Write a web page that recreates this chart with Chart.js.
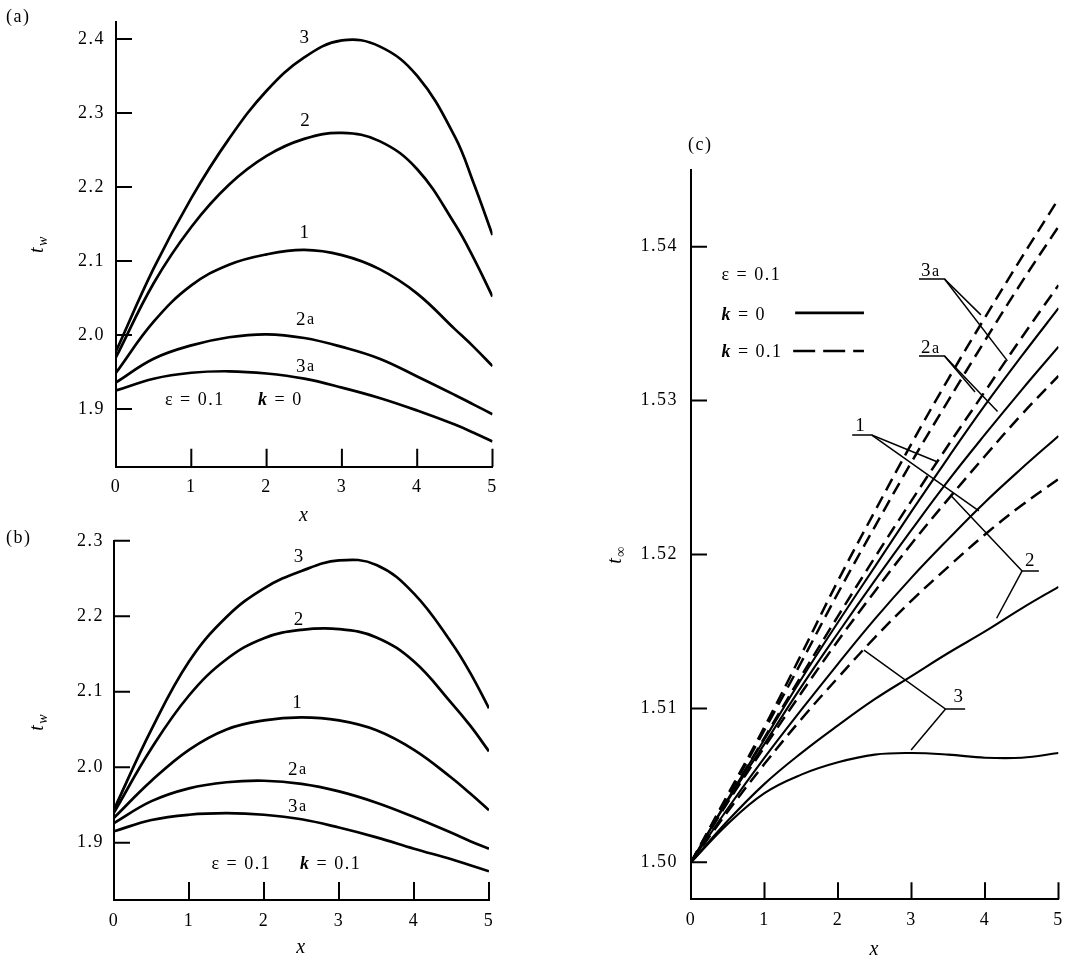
<!DOCTYPE html>
<html><head><meta charset="utf-8">
<script src="https://cdn.jsdelivr.net/npm/chart.js@4.4.1/dist/chart.umd.min.js"></script>
<style>
html,body{margin:0;padding:0;background:#fff;}
body{width:1073px;height:960px;position:relative;overflow:hidden;}
canvas{position:absolute;}
</style></head><body>
<canvas id="ca"></canvas><canvas id="cb"></canvas><canvas id="cc"></canvas>
<script>
// ---------- data ----------
const xTicks = [0, 1, 2, 3, 4, 5];
const xTickLabels = ['0', '1', '2', '3', '4', '5'];
const yTicksA = [1.9, 2.0, 2.1, 2.2, 2.3, 2.4];
const yLabelsA = ['1.9', '2.0', '2.1', '2.2', '2.3', '2.4'];
const yTicksB = [1.9, 2.0, 2.1, 2.2, 2.3];
const yLabelsB = ['1.9', '2.0', '2.1', '2.2', '2.3'];
const yTicksC = [1.50, 1.51, 1.52, 1.53, 1.54];
const yLabelsC = ['1.50', '1.51', '1.52', '1.53', '1.54'];

// panels (a) and (b): t_w vs x
const xAB = [0, 0.5, 1, 1.5, 2, 2.5, 3, 3.5, 4, 4.5, 4.75, 5];
const a3  = [1.978, 2.090, 2.185, 2.265, 2.330, 2.375, 2.398, 2.390, 2.350, 2.268, 2.205, 2.135];
const a2  = [1.970, 2.070, 2.146, 2.203, 2.242, 2.265, 2.273, 2.262, 2.224, 2.150, 2.104, 2.052];
const a1  = [1.949, 2.018, 2.067, 2.095, 2.109, 2.115, 2.108, 2.089, 2.056, 2.008, 1.984, 1.958];
const a2a = [1.936, 1.968, 1.986, 1.997, 2.001, 1.996, 1.984, 1.968, 1.944, 1.919, 1.906, 1.893];
const a3a = [1.925, 1.941, 1.949, 1.951, 1.948, 1.941, 1.929, 1.915, 1.898, 1.879, 1.868, 1.856];

const b3  = [1.944, 2.050, 2.140, 2.199, 2.237, 2.260, 2.274, 2.268, 2.230, 2.165, 2.125, 2.078];
const b2  = [1.940, 2.025, 2.095, 2.143, 2.171, 2.182, 2.183, 2.172, 2.140, 2.085, 2.055, 2.021];
const b1  = [1.933, 1.982, 2.023, 2.050, 2.062, 2.066, 2.062, 2.049, 2.023, 1.986, 1.965, 1.943];
const b2a = [1.926, 1.955, 1.972, 1.980, 1.982, 1.978, 1.968, 1.953, 1.934, 1.913, 1.902, 1.892];
const b3a = [1.915, 1.930, 1.937, 1.939, 1.937, 1.931, 1.920, 1.907, 1.892, 1.878, 1.870, 1.862];

// panel (c): t_inf vs x ; k = 0 (solid) and k = 0.1 (dashed)
const xC = [0, 0.5, 1, 1.5, 2, 2.5, 3, 3.5, 4, 4.5, 5];
const c3a_k0  = [1.5000, 1.5041, 1.5080, 1.5119, 1.5156, 1.5192, 1.5228, 1.5263, 1.5297, 1.5329, 1.5360];
const c2a_k0  = [1.5000, 1.5040, 1.5077, 1.5114, 1.5149, 1.5183, 1.5216, 1.5248, 1.5278, 1.5307, 1.5335];
const c1_k0   = [1.5000, 1.5035, 1.5068, 1.5099, 1.5129, 1.5158, 1.5185, 1.5210, 1.5234, 1.5256, 1.5277];
const c2_k0   = [1.5000, 1.5027, 1.5051, 1.5071, 1.5089, 1.5106, 1.5121, 1.5136, 1.5150, 1.5165, 1.5179];
const c3_k0   = [1.5000, 1.5025, 1.5045, 1.5057, 1.5065, 1.5070, 1.5071, 1.5070, 1.5068, 1.5068, 1.5071];
const c3a_k01 = [1.5000, 1.5044, 1.5088, 1.5135, 1.5183, 1.5228, 1.5272, 1.5314, 1.5354, 1.5393, 1.5431];
const c2a_k01 = [1.5000, 1.5043, 1.5086, 1.5130, 1.5175, 1.5218, 1.5260, 1.5300, 1.5339, 1.5377, 1.5413];
const c1_k01  = [1.5000, 1.5041, 1.5081, 1.5121, 1.5160, 1.5198, 1.5235, 1.5271, 1.5306, 1.5341, 1.5375];
const c2_k01  = [1.5000, 1.5039, 1.5075, 1.5110, 1.5144, 1.5176, 1.5207, 1.5236, 1.5264, 1.5291, 1.5316];
const c3_k01  = [1.5000, 1.5033, 1.5064, 1.5093, 1.5120, 1.5146, 1.5170, 1.5192, 1.5213, 1.5232, 1.5249];

// ---------- styling ----------
const FAM = '"Liberation Serif", "DejaVu Serif", serif';
const F = (s, st) => (st ? st + ' ' : '') + s + 'px ' + FAM;
const tickFont = {family: FAM, size: 18};

function pts(xs, ys) { return xs.map((x, i) => ({x: x, y: ys[i]})); }
function solid(label, xs, ys, w) {
  return {label, data: pts(xs, ys), borderColor: '#000', borderWidth: w, fill: false, pointRadius: 0, tension: 0.4};
}
function dashed(label, xs, ys, w) {
  return {label, data: pts(xs, ys), borderColor: '#000', borderWidth: w, borderDash: [13, 7], fill: false, pointRadius: 0, tension: 0.4};
}

const annotPlugin = {
  id: 'annot',
  beforeDraw(chart) { chart.ctx.letterSpacing = '1.5px'; },
  afterDraw(chart, args, o) {
    const ctx = chart.ctx, xs = chart.scales.x, ys = chart.scales.y, ca = chart.chartArea;
    const X = v => xs.getPixelForValue(v), Y = v => ys.getPixelForValue(v);
    ctx.save();
    ctx.strokeStyle = '#000'; ctx.fillStyle = '#000';
    // inward tick marks
    ctx.lineWidth = 2;
    ctx.beginPath();
    o.xTicks.forEach(v => { if (v === xs.min) return; const p = X(v); ctx.moveTo(p, ca.bottom); ctx.lineTo(p, ca.bottom - o.xLen); });
    o.yTicks.forEach(v => { const p = Y(v); ctx.moveTo(ca.left, p); ctx.lineTo(ca.left + o.yLen, p); });
    ctx.stroke();
    // leader lines / legend samples
    (o.lines || []).forEach(L => {
      ctx.lineWidth = L.w || 1.5;
      ctx.setLineDash(L.dash || []);
      ctx.beginPath();
      L.p.forEach((q, i) => { const px = X(q[0]), py = Y(q[1]); if (i) ctx.lineTo(px, py); else ctx.moveTo(px, py); });
      ctx.stroke();
    });
    ctx.setLineDash([]);
    // texts
    (o.texts || []).forEach(T => {
      let px, py;
      if (T.abs) { px = T.abs[0] - o.offX; py = T.abs[1] - o.offY; } else { px = X(T.x); py = Y(T.y); }
      let w = 0;
      T.segs.forEach(s => { ctx.font = s[1]; w += ctx.measureText(s[0]).width; });
      let cx = T.align === 'center' ? px - w / 2 : px;
      ctx.textAlign = 'left';
      ctx.textBaseline = T.base || 'middle';
      T.segs.forEach(s => { ctx.font = s[1]; ctx.fillText(s[0], cx, py); cx += ctx.measureText(s[0]).width; });
    });
    // rotated y title with subscript
    if (o.ytitle) {
      const t = o.ytitle;
      const px = ca.left + t.dx, py = Y(t.yv);
      ctx.translate(px, py); ctx.rotate(-Math.PI / 2);
      const fm = F(20, 'italic'), fs = F(14, 'italic');
      ctx.font = fm; const w1 = ctx.measureText(t.main).width;
      ctx.font = fs; const w2 = ctx.measureText(t.sub).width;
      const st = -(w1 + w2) / 2;
      ctx.textAlign = 'left'; ctx.textBaseline = 'alphabetic';
      ctx.font = fm; ctx.fillText(t.main, st, 6);
      ctx.font = fs; ctx.fillText(t.sub, st + w1, 10);
    }
    ctx.restore();
  }
};

function panel(id, c) {
  const el = document.getElementById(id);
  el.width = c.w; el.height = c.h;
  el.style.left = c.left + 'px'; el.style.top = c.top + 'px';
  c.annot.offX = c.left; c.annot.offY = c.top;
  c.annot.xTicks = xTicks;
  c.annot.yTicks = c.yTicks;
  return new Chart(el, {
    type: 'line',
    data: {datasets: c.datasets},
    options: {
      responsive: false, animation: false, devicePixelRatio: 1,
      layout: {padding: c.padding},
      plugins: {legend: {display: false}, tooltip: {enabled: false}, title: {display: false}, annot: c.annot},
      elements: {point: {radius: 0}},
      scales: {
        x: {
          type: 'linear', min: 0, max: 5,
          afterBuildTicks: s => { s.ticks = xTicks.map(v => ({value: v})); },
          afterFit: s => { s.height = c.xh; },
          ticks: {color: '#000', font: tickFont, padding: c.xpad, maxRotation: 0, autoSkip: false,
                  callback: (v, i) => xTickLabels[i]},
          grid: {display: true, drawOnChartArea: false, drawTicks: false},
          border: {display: true, color: '#000', width: 2},
          title: {display: true, text: 'x', color: '#000',
                  font: {family: FAM, size: 20, style: 'italic', lineHeight: 1},
                  padding: {top: 0, bottom: c.tpad}}
        },
        y: {
          type: 'linear', min: c.ymin, max: c.ymax,
          afterBuildTicks: s => { s.ticks = c.yTicks.map(v => ({value: v})); },
          afterFit: s => { s.width = c.yw; },
          ticks: {color: '#000', font: tickFont, padding: c.ypad, autoSkip: false,
                  callback: (v, i) => c.yLabels[i]},
          grid: {display: true, drawOnChartArea: false, drawTicks: false},
          border: {display: true, color: '#000', width: 2}
        }
      }
    },
    plugins: [annotPlugin]
  });
}

const lab = s => [[s, F(19)]];
const lab2 = (n, a) => [[n, F(19)], [a, F(16)]];

// ---------- panel (a) ----------
panel('ca', {
  left: 0, top: 0, w: 560, h: 530,
  padding: {left: 0, right: 67.5, top: 8, bottom: 0},
  yw: 116, xh: 63.3, xpad: 9.5, ypad: 11, tpad: 4.5,
  ymin: 1.8221, ymax: 2.4232, yTicks: yTicksA, yLabels: yLabelsA,
  datasets: [solid('3', xAB, a3, 2.7), solid('2', xAB, a2, 2.7), solid('1', xAB, a1, 2.7),
             solid('2a', xAB, a2a, 2.7), solid('3a', xAB, a3a, 2.7)],
  annot: {
    xLen: 18, yLen: 16,
    ytitle: {main: 't', sub: 'w', dx: -79, yv: 2.123},
    texts: [
      {abs: [6, 17], segs: [['(a)', F(18)]]},
      {x: 2.51, y: 2.401, align: 'center', segs: lab('3')},
      {x: 2.52, y: 2.289, align: 'center', segs: lab('2')},
      {x: 2.51, y: 2.138, align: 'center', segs: lab('1')},
      {x: 2.52, y: 2.020, align: 'center', segs: lab2('2', 'a')},
      {x: 2.52, y: 1.957, align: 'center', segs: lab2('3', 'a')},
      {x: 0.651, y: 1.912, segs: [['\u03b5 = 0.1', F(18)]]},
      {x: 1.886, y: 1.912, segs: [['k', F(18, 'italic bold')], [' = 0', F(18)]]}
    ]
  }
});

// ---------- panel (b) ----------
panel('cb', {
  left: 0, top: 520, w: 560, h: 440,
  padding: {left: 0, right: 71, top: 15, bottom: 0},
  yw: 114, xh: 60, xpad: 10, ypad: 10, tpad: 2.5,
  ymin: 1.824, ymax: 2.3, yTicks: yTicksB, yLabels: yLabelsB,
  datasets: [solid('3', xAB, b3, 2.7), solid('2', xAB, b2, 2.7), solid('1', xAB, b1, 2.7),
             solid('2a', xAB, b2a, 2.7), solid('3a', xAB, b3a, 2.7)],
  annot: {
    xLen: 18, yLen: 16,
    ytitle: {main: 't', sub: 'w', dx: -77, yv: 2.06},
    texts: [
      {abs: [6, 538], segs: [['(b)', F(18)]]},
      {x: 2.47, y: 2.278, align: 'center', segs: lab('3')},
      {x: 2.47, y: 2.1956, align: 'center', segs: lab('2')},
      {x: 2.45, y: 2.085, align: 'center', segs: lab('1')},
      {x: 2.45, y: 1.996, align: 'center', segs: lab2('2', 'a')},
      {x: 2.45, y: 1.947, align: 'center', segs: lab2('3', 'a')},
      {x: 1.30, y: 1.8718, segs: [['\u03b5 = 0.1', F(18)]]},
      {x: 2.48, y: 1.8718, segs: [['k', F(18, 'italic bold')], [' = 0.1', F(18)]]}
    ]
  }
});

// ---------- panel (c) ----------
const LW = 2.1, DW = 2.5;
panel('cc', {
  left: 560, top: 100, w: 513, h: 860,
  padding: {left: 0, right: 8, top: 70, bottom: 0},
  yw: 131, xh: 60.7, xpad: 10, ypad: 13, tpad: 0.5,
  ymin: 1.4976, ymax: 1.54498, yTicks: yTicksC, yLabels: yLabelsC,
  datasets: [
    solid('3a, k=0', xC, c3a_k0, LW), solid('2a, k=0', xC, c2a_k0, LW), solid('1, k=0', xC, c1_k0, LW),
    solid('2, k=0', xC, c2_k0, LW), solid('3, k=0', xC, c3_k0, LW),
    dashed('3a, k=0.1', xC, c3a_k01, DW), dashed('2a, k=0.1', xC, c2a_k01, DW), dashed('1, k=0.1', xC, c1_k01, DW),
    dashed('2, k=0.1', xC, c2_k01, DW), dashed('3, k=0.1', xC, c3_k01, DW)
  ],
  annot: {
    xLen: 17, yLen: 16,
    ytitle: {main: 't', sub: '\u221e', dx: -76, yv: 1.520},
    lines: [
      // legend samples
      {p: [[1.417, 1.5357], [2.353, 1.5357]], w: 2.6},
      {p: [[1.390, 1.53322], [2.353, 1.53322]], w: 2.6, dash: [22, 8]},
      // 3a
      {p: [[3.102, 1.5379], [3.449, 1.5379], [3.944, 1.53557]]},
      {p: [[3.449, 1.5379], [4.305, 1.53258]]},
      // 2a
      {p: [[3.102, 1.53289], [3.449, 1.53289], [3.864, 1.53056]]},
      {p: [[3.449, 1.53289], [4.171, 1.52929]]},
      // 1
      {p: [[2.193, 1.52776], [2.460, 1.52776], [3.356, 1.52601]]},
      {p: [[2.460, 1.52776], [3.917, 1.52283]]},
      // 2
      {p: [[4.733, 1.51893], [4.505, 1.51893], [3.529, 1.52387]]},
      {p: [[4.505, 1.51893], [4.158, 1.51586]]},
      // 3
      {p: [[3.730, 1.50996], [3.463, 1.50996], [2.353, 1.51379]]},
      {p: [[3.463, 1.50996], [2.995, 1.50730]]}
    ],
    texts: [
      {abs: [688, 145], segs: [['(c)', F(18)]]},
      {x: 0.414, y: 1.53816, segs: [['\u03b5 = 0.1', F(18)]]},
      {x: 0.414, y: 1.53557, segs: [['k', F(18, 'italic bold')], [' = 0', F(18)]]},
      {x: 0.414, y: 1.53316, segs: [['k', F(18, 'italic bold')], [' = 0.1', F(18)]]},
      {x: 3.128, y: 1.53810, base: 'alphabetic', segs: lab2('3', 'a')},
      {x: 3.128, y: 1.53309, base: 'alphabetic', segs: lab2('2', 'a')},
      {x: 2.233, y: 1.52802, base: 'alphabetic', segs: lab('1')},
      {x: 4.545, y: 1.51925, base: 'alphabetic', segs: lab('2')},
      {x: 3.570, y: 1.51042, base: 'alphabetic', segs: lab('3')}
    ]
  }
});
</script>
</body></html>
